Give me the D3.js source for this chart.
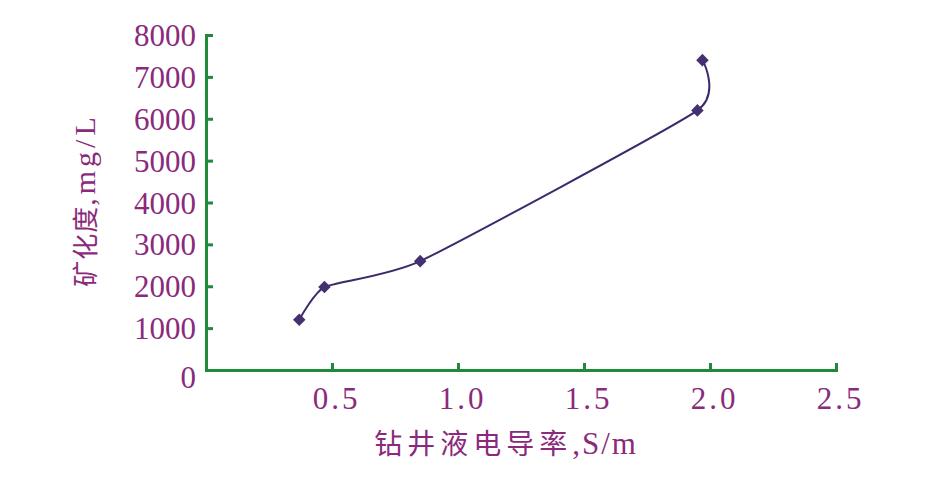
<!DOCTYPE html>
<html><head><meta charset="utf-8">
<script src="https://cdn.jsdelivr.net/npm/d3@7"></script>
<style>
html,body{margin:0;padding:0;background:#fff;}
svg text{fill:#8a2a7c;}
</style></head>
<body>
<svg id="chart" width="947" height="483"></svg>
<script>
const conductivity = [0.37, 0.47, 0.85, 1.95, 1.97];
const salinity = [1200, 1980, 2600, 6200, 7400];
const xTicks = [0.5, 1.0, 1.5, 2.0, 2.5];
const yTicks = [0, 1000, 2000, 3000, 4000, 5000, 6000, 7000, 8000];
const xTitle = "钻井液电导率";
const xUnit = ",S/m";
const yTitle = "矿化度";
const yUnit = ",mg/L";

const svg = d3.select("#chart");
const x = d3.scaleLinear().domain([0, 2.5]).range([206, 836]);
const y = d3.scaleLinear().domain([0, 8000]).range([370, 35]);
const green = "#1f8a3a";
const numFont = "'Liberation Serif', serif";

// x axis
const xAxis = svg.append("g").attr("transform", `translate(0,${y(0)})`)
  .call(d3.axisBottom(x).tickValues(xTicks).tickSizeInner(-7).tickSizeOuter(-7).tickFormat(d3.format(".1f")).tickPadding(17));
xAxis.select(".domain").attr("stroke", green).attr("stroke-width", 3);
xAxis.selectAll(".tick line").attr("stroke", green).attr("stroke-width", 3);
xAxis.selectAll(".tick text").attr("font-family", numFont).attr("font-size", 31)
  .attr("letter-spacing", 3).style("fill", "#8a2a7c").attr("dx", 4);

// y axis
const yAxis = svg.append("g").attr("transform", `translate(${x(0)},0)`)
  .call(d3.axisLeft(y).tickValues(yTicks).tickSizeInner(-7).tickSizeOuter(-7).tickFormat(d3.format("d")).tickPadding(10));
yAxis.select(".domain").attr("stroke", green).attr("stroke-width", 3);
yAxis.selectAll(".tick line").attr("stroke", green).attr("stroke-width", 3);
yAxis.selectAll(".tick text").attr("font-family", numFont).attr("font-size", 31)
  .style("fill", "#8a2a7c")
  .attr("dy", d => d === 0 ? "0.57em" : "0.34em");

// line
const pts = conductivity.map((c, i) => [c, salinity[i]]);
const line = d3.line().x(d => x(d[0])).y(d => y(d[1])).curve(d3.curveCardinal.tension(0.5));
svg.append("path").datum(pts).attr("d", line).attr("fill", "none")
  .attr("stroke", "#3d2a6b").attr("stroke-width", 2);

// markers
svg.append("g").selectAll("path").data(pts).join("path")
  .attr("transform", d => `translate(${x(d[0])},${y(d[1])})`)
  .attr("d", d3.symbol().type(d3.symbolDiamond2).size(100))
  .attr("fill", "#44306f");

// x title
const xt = svg.append("text").attr("x", 506).attr("y", 454).attr("text-anchor", "middle");
xt.append("tspan").attr("font-family", "'Noto Sans CJK SC'").attr("font-size", 28).attr("letter-spacing", 5).text(xTitle);
xt.append("tspan").attr("font-family", numFont).attr("font-size", 31).attr("letter-spacing", 2).text(xUnit);

// y title
const yt = svg.append("text").attr("transform", "translate(95,200) rotate(-90)").attr("text-anchor", "middle");
yt.append("tspan").attr("font-family", "'Noto Sans CJK SC'").attr("font-size", 26).attr("letter-spacing", 1).text(yTitle);
yt.append("tspan").attr("font-family", numFont).attr("font-size", 30).attr("letter-spacing", 4).text(yUnit);
</script>
</body></html>
